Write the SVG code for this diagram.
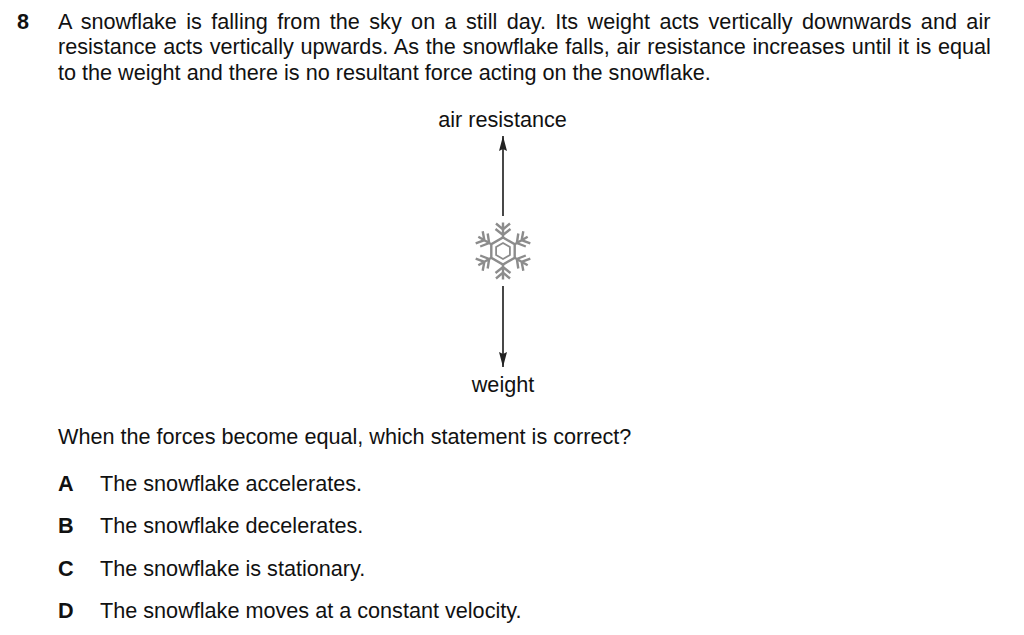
<svg xmlns="http://www.w3.org/2000/svg" width="1024" height="635" viewBox="0 0 1024 635">
<style>
text{font-family:"Liberation Sans",Arial,sans-serif;font-size:21.63px;fill:#111}
.b{font-weight:bold}
.c{text-anchor:middle}
.f{fill:none;stroke:#8c8c8c;stroke-width:2.4}
.l{fill:none;stroke:#1a1a1a;stroke-width:1.6}
</style>
<defs>
<marker id="ah" viewBox="0 0 15 8" refX="15" refY="4" markerWidth="15" markerHeight="8" orient="auto" markerUnits="userSpaceOnUse"><path d="M0 0L15 4L0 8L2 4Z" fill="#222"/></marker>
<g id="arm"><path class="f" d="M0-13V-28.500M-7-27.500L0-21.500L7-27.500M-7.500-22L0-16L7.500-22"/></g>
</defs>
<rect width="1024" height="635" fill="#fff"/>
<g id="question">
<text class="b" x="17" y="29">8</text>
<text x="58" y="29" word-spacing="3.4">A snowflake is falling from the sky on a still day. Its weight acts vertically downwards and air</text>
<text x="58" y="54" word-spacing="0.7">resistance acts vertically upwards. As the snowflake falls, air resistance increases until it is equal</text>
<text x="58" y="80">to the weight and there is no resultant force acting on the snowflake.</text>
<text x="58" y="444">When the forces become equal, which statement is correct?</text>
</g>
<g id="connectors">
<path class="l" d="M503 216V136" marker-end="url(#ah)"/>
<path class="l" d="M503 286V367" marker-end="url(#ah)"/>
</g>
<g id="snowflake" transform="translate(503 251)">
<path class="f" d="M0-8L6.900-4V4L0 8L-6.900 4V-4Z" style="stroke-width:1.800"/>
<path class="f" d="M0-13.500L11.700-6.750V6.750L0 13.500L-11.700 6.750V-6.750Z"/>
<use href="#arm"/>
<use href="#arm" transform="rotate(60)"/>
<use href="#arm" transform="rotate(120)"/>
<use href="#arm" transform="rotate(180)"/>
<use href="#arm" transform="rotate(240)"/>
<use href="#arm" transform="rotate(300)"/>
</g>
<g id="label-air"><text class="c" x="502.500" y="127">air resistance</text></g>
<g id="label-weight"><text class="c" x="503" y="392">weight</text></g>
<g id="option-a"><text class="b" x="58" y="490.500">A</text><text x="100" y="490.500">The snowflake accelerates.</text></g>
<g id="option-b"><text class="b" x="58" y="533">B</text><text x="100" y="533">The snowflake decelerates.</text></g>
<g id="option-c"><text class="b" x="58" y="575.500">C</text><text x="100" y="575.500">The snowflake is stationary.</text></g>
<g id="option-d"><text class="b" x="58" y="618">D</text><text x="100" y="618">The snowflake moves at a constant velocity.</text></g>
</svg>
